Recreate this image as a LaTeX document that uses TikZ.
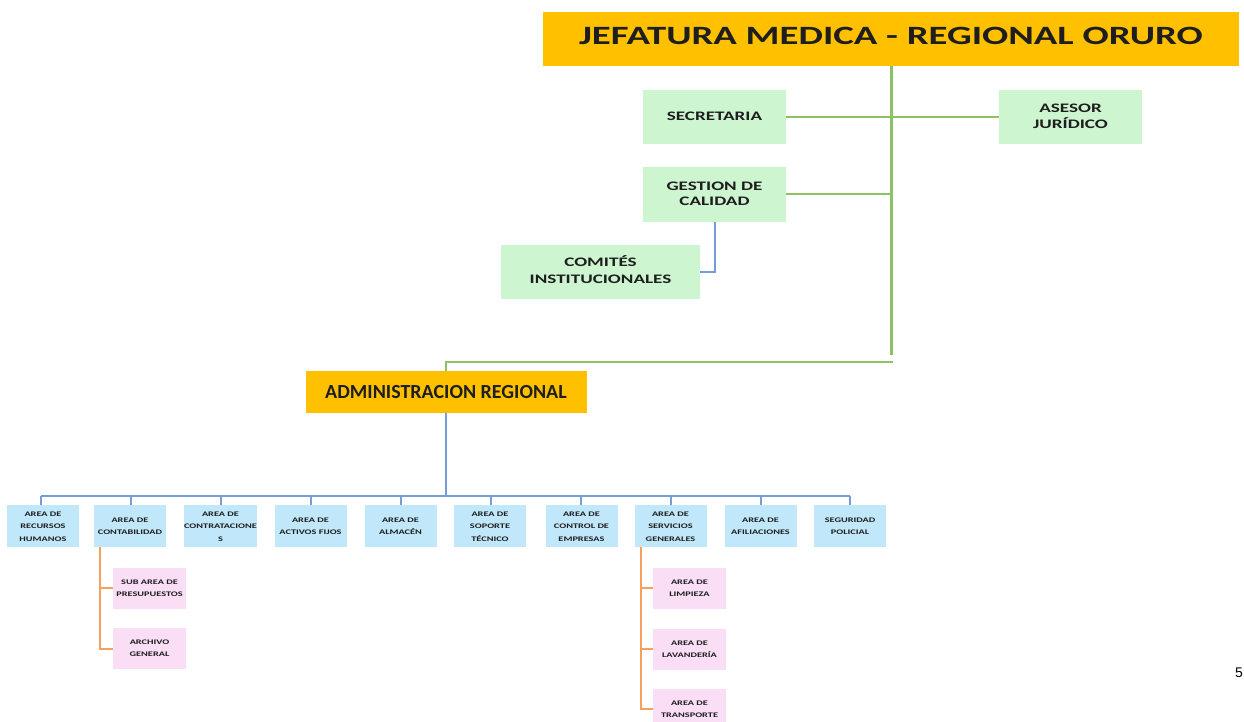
\documentclass[tikz,border=0pt]{standalone}
\usepackage{fontspec}
\usepackage{graphicx}
\setmainfont{Carlito}
\newfontfamily\pagefont{Liberation Sans}
\definecolor{gold}{RGB}{255,192,0}
\definecolor{lgreen}{RGB}{204,245,208}
\definecolor{lblue}{RGB}{192,232,250}
\definecolor{lpink}{RGB}{250,222,246}
\definecolor{gline}{RGB}{140,194,100}
\definecolor{bline}{RGB}{120,156,214}
\definecolor{oline}{RGB}{245,160,95}
\definecolor{txt}{RGB}{30,30,30}
\newcommand\wtxt[1]{\scalebox{1.47}[1]{\begin{tabular}{@{}c@{}}#1\end{tabular}}}
\begin{document}
\begin{tikzpicture}[x=1pt,y=-1pt,
  goldbox/.style={fill=gold,draw=none,inner sep=0pt,text=txt,font=\bfseries},
  greenbox/.style={fill=lgreen,draw=none,inner sep=0pt,text=txt,font=\fontsize{13}{16}\selectfont\bfseries},
  bluebox/.style={fill=lblue,draw=none,inner sep=0pt,minimum width=72pt,minimum height=42pt,text=txt,font=\fontsize{7}{12.5}\selectfont\bfseries},
  pinkbox/.style={fill=lpink,draw=none,inner sep=0pt,minimum width=73pt,minimum height=41pt,text=txt,font=\fontsize{7}{12.3}\selectfont\bfseries},
  gconn/.style={draw=gline,line width=2pt},
  bconn/.style={draw=bline,line width=2pt},
  oconn/.style={draw=oline,line width=2pt}]
\useasboundingbox (0,0) rectangle (1244,722);
% top
\node[goldbox,minimum width=696pt,minimum height=54pt,font=\fontsize{26.4}{30}\selectfont\bfseries] (jef) at (891,39) {\wtxt{JEFATURA MEDICA - REGIONAL ORURO}};
\node[greenbox,minimum width=143pt,minimum height=54pt] (sec) at (714.5,117) {\wtxt{SECRETARIA}};
\node[greenbox,minimum width=143pt,minimum height=54pt] (ase) at (1070.5,117) {\wtxt{ASESOR\\JURÍDICO}};
\node[greenbox,minimum width=143pt,minimum height=55pt,font=\fontsize{13}{15}\selectfont\bfseries] (ges) at (714.5,194.5) {\wtxt{GESTION DE\\CALIDAD}};
\node[greenbox,minimum width=199pt,minimum height=54pt,font=\fontsize{13}{17}\selectfont\bfseries] (com) at (600.5,272) {\wtxt{COMITÉS\\INSTITUCIONALES}};
\node[goldbox,minimum width=281pt,minimum height=42pt,font=\fontsize{20}{22}\selectfont\bfseries] (adm) at (446,392) {ADMINISTRACION REGIONAL};
% green connectors
\draw[gconn,line width=3pt] (jef.south) -- ++(0,289);
\draw[gconn] (sec.east) -- (ase.west);
\draw[gconn] (ges.east) -- (ges.east -| jef.south);
\coordinate (jb) at (893,362);
\draw[gconn] (jb) -| (adm.north);
% blue connector
\draw[bconn] (ges.south) |- (com.east);
% bottom row
\node[bluebox] (b1) at (43,526) {\wtxt{AREA DE\\RECURSOS\\HUMANOS}};
\node[bluebox] (b2) at (130,526) {\wtxt{AREA DE\\CONTABILIDAD}};
\node[bluebox] (b3) at (220.5,526) {\wtxt{AREA DE\\CONTRATACIONE\\S}};
\node[bluebox] (b4) at (310.5,526) {\wtxt{AREA DE\\ACTIVOS FIJOS}};
\node[bluebox] (b5) at (400.5,526) {\wtxt{AREA DE\\ALMACÉN}};
\node[bluebox] (b6) at (490,526) {\wtxt{AREA DE\\SOPORTE\\TÉCNICO}};
\node[bluebox] (b7) at (581.5,526) {\wtxt{AREA DE\\CONTROL DE\\EMPRESAS}};
\node[bluebox] (b8) at (670.5,526) {\wtxt{AREA DE\\SERVICIOS\\GENERALES}};
\node[bluebox] (b9) at (760.5,526) {\wtxt{AREA DE\\AFILIACIONES}};
\node[bluebox] (b10) at (850,526) {\wtxt{SEGURIDAD\\POLICIAL}};
\coordinate (bus) at (adm.south |- 0,496);
\coordinate (busL) at (41,496);
\coordinate (busR) at (850,496);
\draw[bconn] (adm.south) -- (bus);
\draw[bconn] (busL) -- (busR);
\foreach \i/\xx in {1/41,2/131,3/221,4/311,5/401,6/491,7/581,8/671,9/761,10/850}{
  \draw[bconn] (\xx,496) -- (b\i.north -| \xx,0);
}
% sub boxes
\node[pinkbox] (pres) at (149.5,588) {\wtxt{SUB AREA DE\\PRESUPUESTOS}};
\node[pinkbox,font=\fontsize{7}{11.7}\selectfont\bfseries] (arch) at (149.5,648.5) {\wtxt{ARCHIVO\\GENERAL}};
\node[pinkbox] (limp) at (689.5,588) {\wtxt{AREA DE\\LIMPIEZA}};
\node[pinkbox] (lav) at (689.5,649) {\wtxt{AREA DE\\LAVANDERÍA}};
\node[pinkbox] (tra) at (689.5,709) {\wtxt{AREA DE\\TRANSPORTE}};
\draw[oconn] ([xshift=6pt]b2.south west) |- (pres.west);
\draw[oconn] ([xshift=6pt]b2.south west) |- (arch.west);
\draw[oconn] ([xshift=7pt]b8.south west) |- (limp.west);
\draw[oconn] ([xshift=7pt]b8.south west) |- (lav.west);
\draw[oconn] ([xshift=7pt]b8.south west) |- (tra.west);
\node[font=\pagefont\fontsize{14}{16}\selectfont] (pg) at (1239,673) {5};
\end{tikzpicture}
\end{document}
